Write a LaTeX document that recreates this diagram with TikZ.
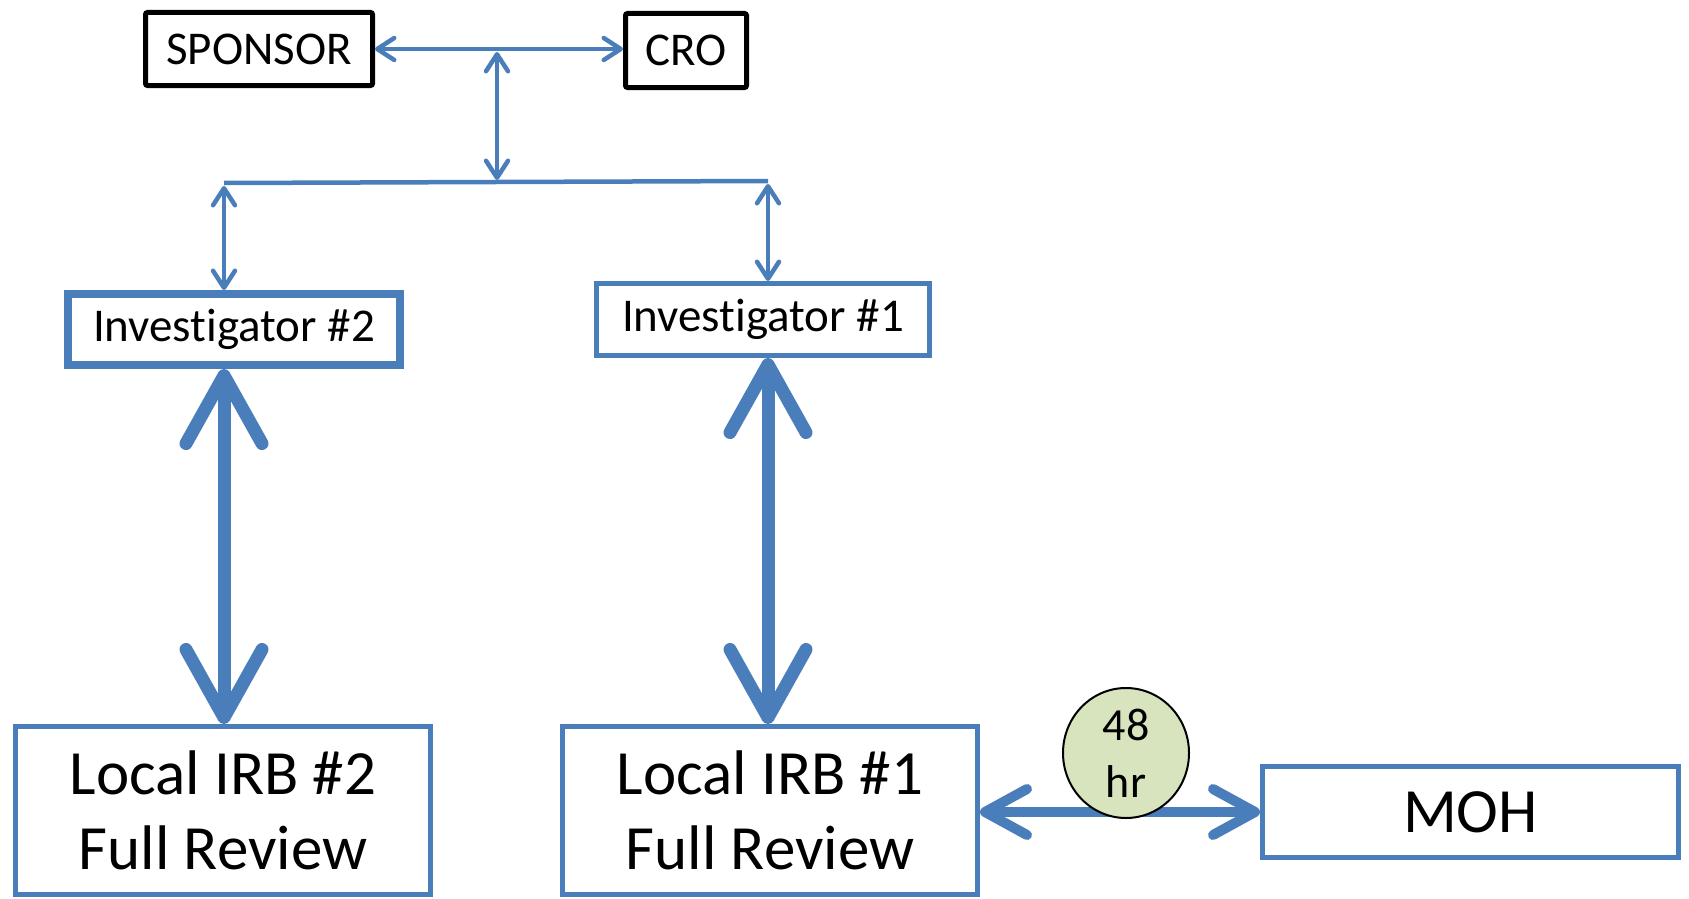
\documentclass[tikz,border=0pt]{standalone}
\usepackage{fontspec}
\setmainfont{Carlito}[Ligatures=NoCommon]
\usetikzlibrary{arrows.meta,shapes.geometric,calc}
\definecolor{lineblue}{RGB}{74,126,187}
\definecolor{circgreen}{RGB}{215,228,189}
\begin{document}
\begin{tikzpicture}[x=1pt,y=-1pt,
  blackbox/.style={draw=black,line width=5pt,rounded corners=2pt,fill=white,inner sep=0pt,
    font=\fontsize{47}{56}\selectfont},
  invbox/.style={draw=lineblue,fill=white,inner sep=0pt,font=\fontsize{47}{56}\selectfont},
  irbbox/.style={draw=lineblue,line width=5pt,fill=white,inner sep=0pt,align=center,
    minimum width=415pt,minimum height=168pt,font=\fontsize{63}{75}\selectfont},
  thinline/.style={draw=lineblue,line width=4.5pt},
  thinarrow/.style={thinline,>={Straight Barb[length=17pt,width=22pt,round]},<->},
  thickarrow/.style={draw=lineblue,line width=13pt,>={Straight Barb[length=68pt,width=76pt,round]},<->},
  midarrow/.style={draw=lineblue,line width=10pt,>={Straight Barb[length=42pt,width=46pt,round]},<->},
  timer/.style={ellipse,draw=black,line width=2pt,fill=circgreen,minimum width=126pt,
    minimum height=130pt,inner sep=0pt,align=center,font=\fontsize{46}{57}\selectfont}
]
\useasboundingbox (0,0) rectangle (1689,899);
\fill[white] (0,0) rectangle (1689,899);

% nodes
\node[blackbox,minimum width=227pt,minimum height=73pt] (sponsor) at (259,49) {SPONSOR};
\node[blackbox,minimum width=121pt,minimum height=74pt] (cro) at (686,50.5) {CRO};
\node[invbox,line width=8pt,minimum width=332pt,minimum height=71pt] (inv2) at (234,329.5) {Investigator \#2};
\node[invbox,line width=5pt,minimum width=333pt,minimum height=72pt] (inv1) at (763,319.5) {Investigator \#1};
\node[irbbox] (irb2) at (223,810.5) {Local IRB \#2\\Full Review};
\node[irbbox] (irb1) at (770,810.5) {Local IRB \#1\\Full Review};
\node[irbbox,minimum width=416pt,minimum height=91pt] (moh) at (1470.5,812) {MOH};

% helper coordinates
\coordinate (jtop) at (497,52);
\coordinate (jbot) at (497,180);
\coordinate (bl) at (224,183);
\coordinate (br) at (768,181);
\coordinate (blarrow) at (224,186);
\coordinate (brarrow) at (768,184);

% thin connectors
\draw[thinarrow] (sponsor.east) -- (sponsor.east -| cro.west);
\draw[thinarrow] (jtop) -- (jbot);
\draw[thinline] (bl) -- (br);
\draw[thinarrow] (blarrow) -- (blarrow |- inv2.north);
\draw[thinarrow] (brarrow) -- (brarrow |- inv1.north);

% thick connectors
\draw[thickarrow] (inv2.south -| bl) -- (irb2.north -| bl);
\draw[thickarrow] (inv1.south -| br) -- (irb1.north -| br);
\draw[midarrow] (irb1.east |- moh.west) -- (moh.west);

% timer
\node[timer] (hr) at (1126,753) {48\\hr};
\end{tikzpicture}
\end{document}
